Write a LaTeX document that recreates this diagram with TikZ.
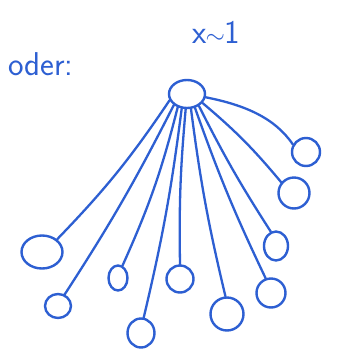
\documentclass[tikz,border=0pt]{standalone}
\usetikzlibrary{shapes.geometric}
\definecolor{pen}{RGB}{45,95,210}
\begin{document}
\begin{tikzpicture}[x=1pt,y=-1pt,
  blob/.style={draw=pen, line width=2.4pt, ellipse, inner sep=0pt},
  wire/.style={draw=pen, line width=2.3pt, line cap=round},
  hand/.style={text=pen, font=\sffamily\fontsize{33}{33}\selectfont, inner sep=0pt}]
\useasboundingbox[fill=white] (0,0) rectangle (354,360);
\node[hand, anchor=base west] (oder) at (8,75) {oder:};
\node[hand, anchor=base] (xl) at (216,43) {x\kern-1pt$\sim$\kern-1pt1};
\node[blob, minimum width=36pt, minimum height=28pt] (r) at (187,94) {};
\node[blob, minimum width=28pt, minimum height=28pt] (c1) at (306,152) {};
\node[blob, minimum width=31pt, minimum height=31pt] (c2) at (294,193) {};
\node[blob, minimum width=24pt, minimum height=29pt] (c10) at (276,246) {};
\node[blob, minimum width=29pt, minimum height=29pt] (c9) at (271,293) {};
\node[blob, minimum width=33pt, minimum height=33pt] (c8) at (227,314) {};
\node[blob, minimum width=27pt, minimum height=27pt] (c7) at (180,279) {};
\node[blob, minimum width=27pt, minimum height=29pt] (c6) at (141,333) {};
\node[blob, minimum width=19pt, minimum height=25pt] (c5) at (118,278) {};
\node[blob, minimum width=26pt, minimum height=24pt] (c4) at (58,306) {};
\node[blob, minimum width=41pt, minimum height=33pt] (c3) at (42,252) {};
\draw[wire] (r.-10) .. controls (245,105) and (275,118) .. (c1.150);
\draw[wire] (r.-30) to[bend left=5] (c2.140);
\draw[wire] (r.-45) to[bend right=3] (c10.110);
\draw[wire] (r.-60) to[bend right=3] (c9.110);
\draw[wire] (r.-75) to[bend right=3] (c8.95);
\draw[wire] (r.-95) to[bend right=3] (c7.90);
\draw[wire] (r.-110) to[bend left=3] (c6.80);
\draw[wire] (r.-125) to[bend left=5] (c5.70);
\draw[wire] (r.-140) to[bend left=3] (c4.60);
\draw[wire] (r.-160) to[bend left=5] (c3.40);
\end{tikzpicture}
\end{document}
